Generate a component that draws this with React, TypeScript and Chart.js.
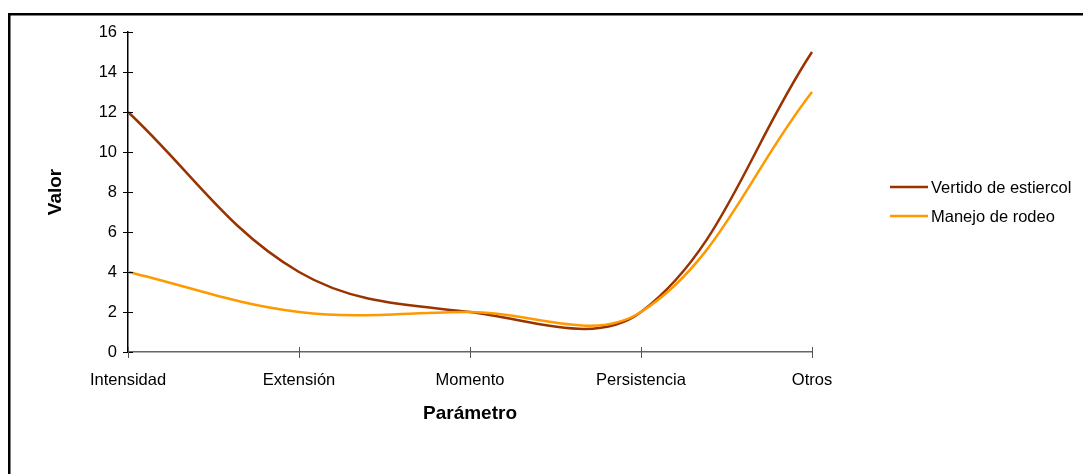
import React, { useEffect, useRef } from "react";
import { Chart, registerables } from "chart.js";

Chart.register(...registerables);

const categories = ["Intensidad", "Extensión", "Momento", "Persistencia", "Otros"];
const vertidoValues = [12, 4, 2, 2, 15];
const manejoValues = [4, 2, 2, 2, 13];
const seriesNames = ["Vertido de estiercol", "Manejo de rodeo"];
const seriesColors = ["#993300", "#FF9900"];
const yTicks = [0, 2, 4, 6, 8, 10, 12, 14, 16];

const FONT = "'Liberation Sans', Arial, sans-serif";

const decorPlugin = {
  id: "decor",
  beforeDraw(chart: any) {
    const ctx = chart.ctx;
    ctx.save();
    ctx.fillStyle = "#ffffff";
    ctx.fillRect(0, 0, chart.width, chart.height);
    ctx.strokeStyle = "#000000";
    ctx.lineWidth = 2.5;
    ctx.strokeRect(9.25, 14.25, chart.width + 20, chart.height + 20);
    ctx.restore();
  },
  afterDraw(chart: any) {
    const ctx = chart.ctx;
    const xs = chart.scales.x;
    const ys = chart.scales.y;
    const area = chart.chartArea;
    ctx.save();
    ctx.strokeStyle = "#000000";
    ctx.lineWidth = 1;
    yTicks.forEach((v) => {
      const py = Math.round(ys.getPixelForValue(v)) + 0.5;
      ctx.beginPath();
      ctx.moveTo(area.left - 5, py);
      ctx.lineTo(area.left + 5, py);
      ctx.stroke();
    });
    ctx.strokeStyle = "#555555";
    categories.forEach((_, i) => {
      const px = Math.round(xs.getPixelForValue(i)) + 0.5;
      ctx.beginPath();
      ctx.moveTo(px, area.bottom - 5);
      ctx.lineTo(px, area.bottom + 6);
      ctx.stroke();
    });
    const lx = 890;
    const rows = [187, 216];
    ctx.font = `16.5px ${FONT}`;
    ctx.textBaseline = "middle";
    ctx.textAlign = "left";
    seriesNames.forEach((name, i) => {
      ctx.strokeStyle = seriesColors[i];
      ctx.lineWidth = 2.5;
      ctx.beginPath();
      ctx.moveTo(lx, rows[i]);
      ctx.lineTo(lx + 38, rows[i]);
      ctx.stroke();
      ctx.fillStyle = "#000000";
      ctx.fillText(name, lx + 41, rows[i] + 1.5);
    });
    ctx.restore();
  },
};

export default function App() {
  const canvasRef = useRef<HTMLCanvasElement | null>(null);

  useEffect(() => {
    const canvas = canvasRef.current;
    if (!canvas) return;
    const chart = new Chart(canvas, {
      type: "line",
      data: {
        labels: categories,
        datasets: [
          {
            label: seriesNames[0],
            data: vertidoValues,
            borderColor: seriesColors[0],
            backgroundColor: seriesColors[0],
            borderWidth: 2.5,
            pointRadius: 0,
            tension: 0.37,
            order: 1,
          },
          {
            label: seriesNames[1],
            data: manejoValues,
            borderColor: seriesColors[1],
            backgroundColor: seriesColors[1],
            borderWidth: 2.5,
            pointRadius: 0,
            tension: 0.37,
            order: 0,
          },
        ],
      },
      options: {
        animation: false,
        responsive: false,
        maintainAspectRatio: false,
        devicePixelRatio: 1,
        layout: { padding: { left: 0, top: 32, right: 271, bottom: 0 } },
        plugins: {
          legend: { display: false },
          tooltip: { enabled: false },
        },
        scales: {
          x: {
            type: "category",
            offset: false,
            grid: { display: false, drawTicks: false },
            border: { display: true, color: "#666666", width: 1.5 },
            ticks: {
              padding: 19,
              color: "#000000",
              font: { family: FONT, size: 16.5 },
              maxRotation: 0,
              autoSkip: false,
            },
            title: {
              display: true,
              text: "Parámetro",
              color: "#000000",
              font: { family: FONT, size: 19, weight: "bold" },
              padding: { top: 0, bottom: 49 },
            },
            afterFit(scale: any) {
              scale.height = 122;
            },
          },
          y: {
            min: 0,
            max: 16,
            grid: { display: false, drawTicks: false },
            border: { display: true, color: "#000000", width: 1.5 },
            ticks: {
              stepSize: 2,
              padding: 11,
              color: "#000000",
              font: { family: FONT, size: 16.5 },
            },
            title: {
              display: true,
              text: "Valor",
              color: "#000000",
              font: { family: FONT, size: 19, weight: "bold" },
              padding: { top: 44, bottom: 0 },
            },
            afterFit(scale: any) {
              scale.width = 128;
            },
          },
        },
      },
      plugins: [decorPlugin],
    });
    return () => chart.destroy();
  }, []);

  return (
    <div style={{ position: "fixed", left: 0, top: 0, width: 1083, height: 474, overflow: "hidden", background: "#fff" }}>
      <canvas ref={canvasRef} width={1083} height={474} style={{ display: "block" }} />
    </div>
  );
}
